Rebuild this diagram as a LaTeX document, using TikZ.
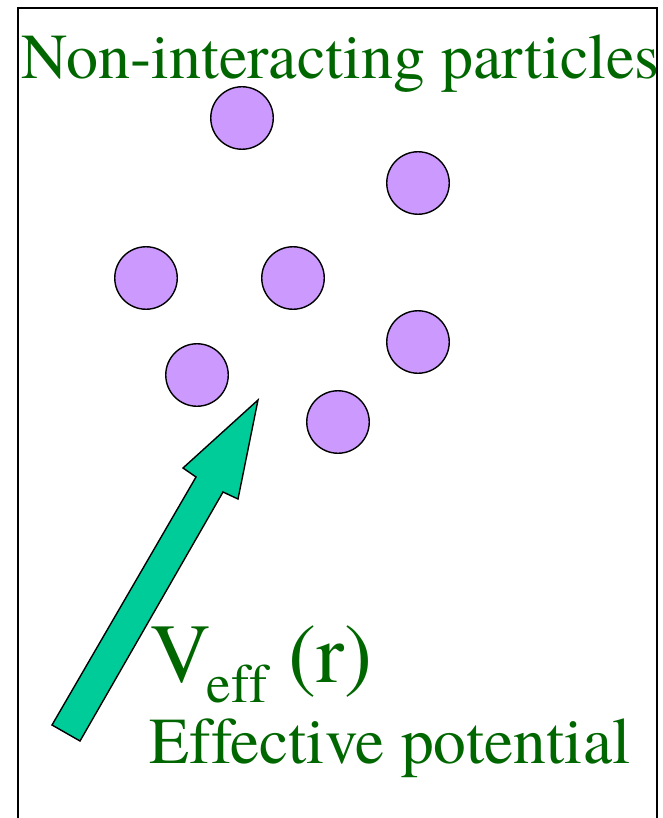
\documentclass[tikz,border=0pt]{standalone}
\usepackage{fontspec}
\setmainfont{texgyretermes-regular.otf}[Ligatures=CommonOff]
\usepackage{tikz}
\definecolor{partgreen}{RGB}{0,102,0}
\definecolor{partlilac}{RGB}{204,153,255}
\definecolor{potteal}{RGB}{0,204,153}

\begin{document}
\begin{tikzpicture}[
  x=1pt, y=-1pt,
  particle/.style={circle, draw=black, line width=1.4pt, fill=partlilac,
                   minimum size=62.5pt, inner sep=0pt},
  greentext/.style={text=partgreen, inner sep=0pt, anchor=base west},
  potarrow/.style={draw=black, line width=1.4pt, fill=potteal, line join=miter},
]
\useasboundingbox (0,0) rectangle (662,818);

%% ── Frame (open at the bottom) ───────────────────────────────────────────
\draw[line width=2pt] (18,818) -- (18,8) -- (657,8) -- (657,818);

%% ── Title ────────────────────────────────────────────────────────────────
\node[greentext] (title) at (21,79)
  {\fontsize{64}{70}\selectfont Non-interacting particles};

%% ── Particles ────────────────────────────────────────────────────────────
\foreach \i/\px/\py in {
  1/242/118,
  2/418/183,
  3/146/278,
  4/293/278,
  5/418/342,
  6/197/375,
  7/338/422} {
  \node[particle] (p\i) at (\px,\py) {};
}

%% ── Effective potential arrow ────────────────────────────────────────────
\coordinate (tailL) at (52,725);
\coordinate (tailR) at (80,741);
\coordinate (tip)   at (258,400);
\draw[potarrow] (tailL) -- (196,477) -- (183,468) -- (tip)
  -- (238,499) -- (223,492) -- (tailR) -- cycle;

%% ── Potential labels ─────────────────────────────────────────────────────
\node[greentext] (veff) at (150,682)
  {\fontsize{84}{90}\selectfont V\kern-4pt\raisebox{-20pt}{\fontsize{55}{60}\selectfont eff} (r)};
\node[greentext] (effpot) at (149,763)
  {\fontsize{65.5}{70}\selectfont Effective potential};

\end{tikzpicture}
\end{document}
